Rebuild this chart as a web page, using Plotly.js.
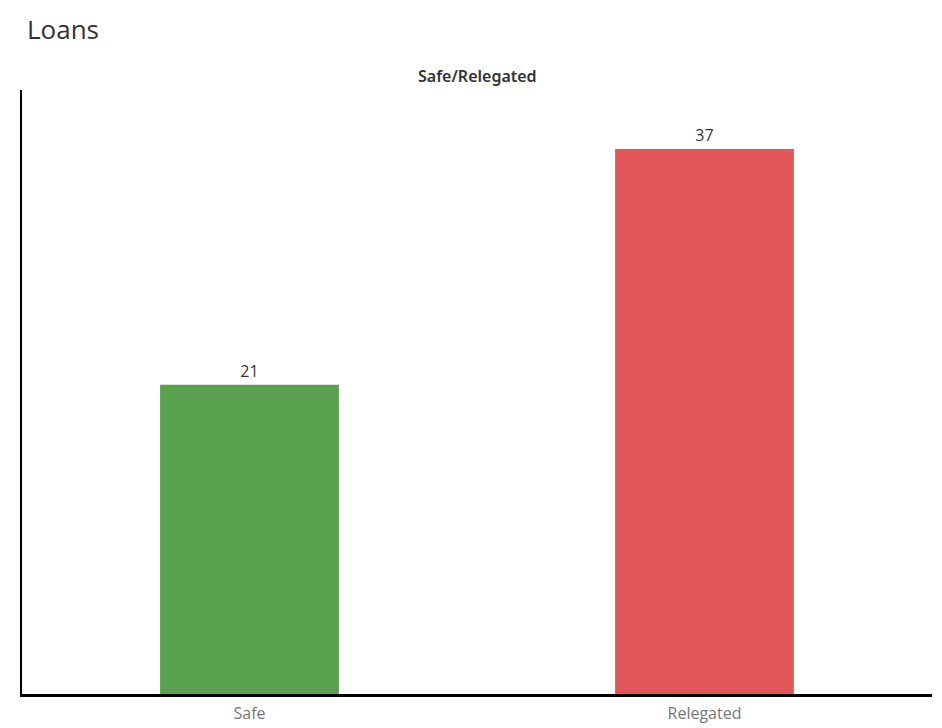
<!DOCTYPE html>
<html>
<head>
<meta charset="utf-8">
<script src="https://cdn.plot.ly/plotly-3.0.1.min.js"></script>
<style>html,body{margin:0;padding:0;background:#fff;}#chart{width:942px;height:728px;}</style>
</head>
<body>
<div id="chart"></div>
<script>
const categories = ["Safe", "Relegated"];
const loans = [21, 37];
const barColors = ["#59A14F", "#E15759"];
const chartTitle = "Loans";
const headerTitle = "Safe/Relegated";

const trace = {
  type: "bar",
  x: categories,
  y: loans,
  marker: {color: barColors},
  text: loans.map(String),
  textposition: "outside",
  cliponaxis: false,
  textfont: {family: "Open Sans, Noto Sans, sans-serif", size: 16, color: "#333333"},
  hoverinfo: "x+y"
};

const layout = {
  width: 942,
  height: 728,
  margin: {l: 22, r: 10, t: 90, b: 34},
  paper_bgcolor: "#ffffff",
  plot_bgcolor: "#ffffff",
  bargap: 0.607,
  showlegend: false,
  font: {family: "Open Sans, Noto Sans, sans-serif", color: "#333333"},
  title: {
    text: chartTitle,
    xref: "container", yref: "container",
    x: 27/942, xanchor: "left",
    y: 1 - 30/728, yanchor: "middle",
    font: {family: "Open Sans, Noto Sans, sans-serif", size: 26, color: "#333333"}
  },
  xaxis: {
    type: "category",
    showgrid: false,
    zeroline: false,
    showline: true,
    linecolor: "#000000",
    linewidth: 3,
    ticks: "",
    ticklabelstandoff: 3,
    tickfont: {size: 16, color: "#777777"},
    fixedrange: true
  },
  yaxis: {
    range: [0, 41],
    showgrid: false,
    zeroline: false,
    showline: true,
    linecolor: "#000000",
    linewidth: 2,
    ticks: "",
    showticklabels: false,
    fixedrange: true
  },
  annotations: [{
    text: headerTitle,
    xref: "paper", yref: "paper",
    x: 0.5, y: 1,
    xanchor: "center", yanchor: "bottom",
    yshift: 1,
    showarrow: false,
    font: {family: "Noto Sans, Open Sans, sans-serif", size: 16, color: "#333333", weight: 600}
  }]
};

Plotly.newPlot("chart", [trace], layout, {displayModeBar: false, staticPlot: true});
</script>
</body>
</html>
